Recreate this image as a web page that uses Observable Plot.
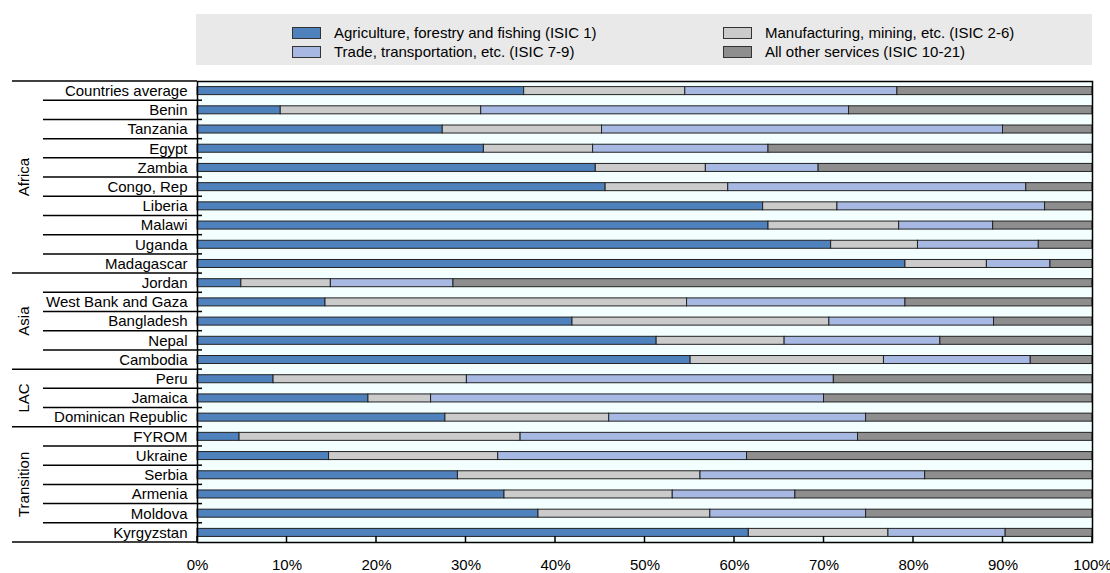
<!DOCTYPE html>
<html><head><meta charset="utf-8">
<script src="https://cdn.jsdelivr.net/npm/d3@7"></script>
<script src="https://cdn.jsdelivr.net/npm/@observablehq/plot@0.6"></script>
<style>
html,body{margin:0;padding:0;background:#fff;overflow:hidden;font-family:"Liberation Sans",Arial,sans-serif;}
#legend{position:relative;width:1110px;height:80px;}
#legend .box{position:absolute;left:196px;top:14px;width:896px;height:51px;background:#e9e9e9;}
.item{position:absolute;font-size:15px;line-height:19px;height:19px;white-space:nowrap;color:#000;}
.sw{position:absolute;width:27px;height:10px;border:1px solid #333;top:4px;left:-42px;box-sizing:content-box;}
</style></head>
<body>
<div id="legend"><div class="box"></div></div>
<div id="chart"></div>
<script>
const countries = ["Countries average","Benin","Tanzania","Egypt","Zambia","Congo, Rep","Liberia","Malawi","Uganda","Madagascar",
  "Jordan","West Bank and Gaza","Bangladesh","Nepal","Cambodia",
  "Peru","Jamaica","Dominican Republic",
  "FYROM","Ukraine","Serbia","Armenia","Moldova","Kyrgyzstan"];
const regions = ["Africa","Africa","Africa","Africa","Africa","Africa","Africa","Africa","Africa","Africa",
  "Asia","Asia","Asia","Asia","Asia",
  "LAC","LAC","LAC",
  "Transition","Transition","Transition","Transition","Transition","Transition"];
const sectors = ["Agriculture, forestry and fishing (ISIC 1)","Manufacturing, mining, etc. (ISIC 2-6)",
  "Trade, transportation, etc. (ISIC 7-9)","All other services (ISIC 10-21)"];
const sectorColors = ["#4F81BD","#CBCBCB","#A7B9E3","#8E8E8E"];
const agriculture   = [36.5, 9.3,27.4,32.0,44.5,45.6,63.2,63.8,70.8,79.1, 4.9,14.3,41.9,51.3,55.1, 8.5,19.1,27.7, 4.7,14.7,29.1,34.3,38.1,61.6];
const manufacturing = [18.0,22.4,17.8,12.2,12.3,13.7, 8.3,14.6, 9.7, 9.1,10.0,40.4,28.7,14.3,21.6,21.6, 7.0,18.3,31.4,18.9,27.1,18.8,19.2,15.6];
const trade         = [23.7,41.1,44.8,19.6,12.6,33.3,23.2,10.5,13.5, 7.1,13.7,24.4,18.4,17.4,16.4,41.0,43.9,28.7,37.7,27.8,25.1,13.7,17.4,13.1];
const otherServices = [21.8,27.2,10.0,36.2,30.6, 7.4, 5.3,11.1, 6.0, 4.7,71.4,20.9,11.0,17.0, 6.9,28.9,30.0,25.3,26.2,38.6,18.7,33.2,25.3, 9.7];
const xTicks = [0,10,20,30,40,50,60,70,80,90,100];

// legend (HTML)
const legendPos = [[334,23],[765,23],[334,42],[765,42]];
const legendOrder = [0,1,2,3];
const legend = document.getElementById("legend");
legendOrder.forEach((s, i) => {
  const it = document.createElement("div");
  it.className = "item";
  it.style.left = legendPos[i][0] + "px";
  it.style.top = legendPos[i][1] + "px";
  const sw = document.createElement("div");
  sw.className = "sw";
  sw.style.background = sectorColors[s];
  it.appendChild(sw);
  it.appendChild(document.createTextNode(sectors[s]));
  legend.appendChild(it);
});

const series = [agriculture, manufacturing, trade, otherServices];
const data = [];
series.forEach((vals, s) => countries.forEach((c, i) => data.push({country: c, sector: sectors[s], value: vals[i]})));

const plot = Plot.plot({
  width: 1110,
  height: 493,
  marginLeft: 197,
  marginRight: 18,
  marginTop: 1,
  marginBottom: 31,
  style: {fontFamily: '"Liberation Sans", Arial, sans-serif', fontSize: "15px", color: "#000", background: "#fff", overflow: "visible"},
  x: {domain: [0, 100], ticks: xTicks, tickFormat: d => d + "%", tickSize: 0, tickPadding: 17, label: null},
  y: {domain: countries, padding: 0, round: false, tickSize: 0, tickPadding: 10, label: null},
  color: {domain: sectors, range: sectorColors},
  marks: [
    Plot.frame({fill: "#F3FEFE"}),
    Plot.barX(data, Plot.stackX({y: "country", x: "value", fill: "sector", stroke: "#222", strokeWidth: 1, insetTop: 5.6, insetBottom: 5.6})),
    Plot.frame({stroke: "#000", strokeWidth: 1.5})
  ]
});
document.getElementById("chart").appendChild(plot);

// decorations from the plot's own scales
const xs = plot.scale("x"), ys = plot.scale("y");
const x0 = xs.apply(0);
const n = countries.length;
const bw = ys.bandwidth !== undefined ? ys.bandwidth : (ys.apply(countries[1]) - ys.apply(countries[0]));
const yEdge = i => i < n ? ys.apply(countries[i]) : ys.apply(countries[n - 1]) + bw;
const svg = d3.select(plot);
const g = svg.append("g").attr("stroke", "#000").attr("stroke-width", 1.5).attr("fill", "none");
for (let i = 0; i <= n; i++) {
  const y = yEdge(i);
  const groupEdge = i === 0 || i === n || regions[i] !== regions[i - 1];
  g.append("line").attr("x1", groupEdge ? 12 : 43).attr("x2", x0).attr("y1", y).attr("y2", y);
  if (i > 0 && i < n) g.append("line").attr("x1", x0).attr("x2", x0 + 5).attr("y1", y).attr("y2", y);
}
const yb = yEdge(n);
xTicks.forEach(t => {
  const x = xs.apply(t);
  g.append("line").attr("x1", x).attr("x2", x).attr("y1", yb).attr("y2", yb - 6);
});
const groupNames = Array.from(new Set(regions));
groupNames.forEach(r => {
  const first = regions.indexOf(r), last = regions.lastIndexOf(r);
  const yc = (yEdge(first) + yEdge(last + 1)) / 2;
  svg.append("text")
    .attr("transform", `translate(24,${yc}) rotate(-90)`)
    .attr("text-anchor", "middle")
    .attr("dy", "0.35em")
    .attr("fill", "#000")
    .style("font-size", "15px")
    .text(r);
});
</script>
</body></html>
